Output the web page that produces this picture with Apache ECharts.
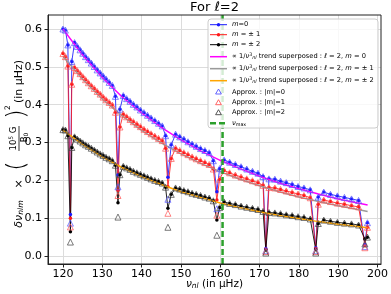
<!DOCTYPE html>
<html><head><meta charset="utf-8">
<script src="https://cdn.jsdelivr.net/npm/echarts@6/dist/echarts.min.js"></script>
<style>html,body{margin:0;padding:0;background:#fff}#c{width:391px;height:294px}</style>
</head><body><div id="c"></div>
<script>
// frequencies nu_nl (µHz)
const freq = [120.00,120.62,121.25,121.90,122.25,122.95,123.65,124.35,125.05,125.75,126.45,127.20,127.95,128.70,129.45,130.20,130.95,131.75,132.55,133.35,
134.00,134.50,135.35,136.20,137.05,137.90,138.80,139.70,140.60,141.50,142.40,143.35,144.30,145.25,146.10,
146.70,147.55,148.65,149.70,150.75,151.80,152.85,153.90,155.00,156.10,157.20,158.25,
159.15,159.85,161.00,162.40,163.85,165.30,166.75,168.20,169.60,170.90,
171.60,172.40,173.90,175.35,176.80,178.30,179.80,181.30,182.90,
184.30,184.95,186.35,188.05,189.80,191.60,193.40,195.20,196.80,197.45];
const m0 = [0.600,0.597,0.558,0.110,0.514,0.564,0.554,0.545,0.536,0.527,0.519,0.510,0.501,0.492,0.484,0.476,0.468,0.459,0.451,0.422,
0.214,0.388,0.424,0.416,0.409,0.401,0.394,0.386,0.379,0.372,0.365,0.358,0.351,0.344,0.318,
0.208,0.294,0.322,0.315,0.309,0.302,0.296,0.290,0.284,0.279,0.273,0.252,
0.170,0.231,0.254,0.248,0.242,0.236,0.230,0.224,0.219,0.210,
0.020,0.204,0.203,0.198,0.194,0.189,0.184,0.180,0.175,
0.022,0.156,0.169,0.163,0.159,0.155,0.151,0.147,0.030,0.088];
const m1 = [0.535,0.527,0.502,0.100,0.454,0.498,0.490,0.482,0.474,0.466,0.458,0.450,0.443,0.435,0.428,0.420,0.413,0.406,0.399,0.380,
0.174,0.341,0.375,0.368,0.361,0.355,0.348,0.342,0.335,0.329,0.323,0.317,0.311,0.305,0.285,
0.183,0.258,0.285,0.279,0.273,0.268,0.262,0.257,0.252,0.247,0.242,0.230,
0.148,0.203,0.226,0.220,0.214,0.209,0.204,0.199,0.194,0.187,
0.018,0.181,0.180,0.176,0.172,0.168,0.164,0.160,0.154,
0.020,0.137,0.148,0.144,0.140,0.137,0.133,0.130,0.028,0.076];
const m2 = [0.334,0.333,0.318,0.064,0.287,0.315,0.309,0.304,0.299,0.294,0.290,0.285,0.280,0.275,0.270,0.266,0.261,0.257,0.252,0.240,
0.141,0.215,0.237,0.233,0.229,0.224,0.220,0.216,0.212,0.208,0.204,0.200,0.197,0.193,0.182,
0.126,0.163,0.180,0.177,0.173,0.170,0.166,0.163,0.160,0.156,0.153,0.146,
0.095,0.128,0.143,0.139,0.136,0.132,0.129,0.126,0.123,0.118,
0.016,0.115,0.114,0.112,0.109,0.107,0.104,0.102,0.098,
0.017,0.086,0.095,0.092,0.089,0.087,0.085,0.082,0.045,0.050];
// approximations |m| = 0,1,2
const approx0 = [0.600,0.597,0.558,0.087,0.514,0.564,0.554,0.545,0.536,0.527,0.519,0.510,0.501,0.492,0.484,0.476,0.468,0.459,0.451,0.422,
0.183,0.388,0.424,0.416,0.409,0.401,0.394,0.386,0.379,0.372,0.365,0.358,0.351,0.344,0.318,
0.150,0.294,0.322,0.315,0.309,0.302,0.296,0.290,0.284,0.279,0.273,0.252,
0.125,0.231,0.254,0.248,0.242,0.236,0.230,0.224,0.219,0.210,
0.014,0.204,0.203,0.198,0.194,0.189,0.184,0.180,0.175,
0.014,0.156,0.169,0.163,0.159,0.155,0.151,0.147,0.025,0.088];
const approx1 = [0.535,0.527,0.502,0.077,0.454,0.498,0.490,0.482,0.474,0.466,0.458,0.450,0.443,0.435,0.428,0.420,0.413,0.406,0.399,0.380,
0.160,0.341,0.375,0.368,0.361,0.355,0.348,0.342,0.335,0.329,0.323,0.317,0.311,0.305,0.285,
0.113,0.258,0.285,0.279,0.273,0.268,0.262,0.257,0.252,0.247,0.242,0.230,
0.108,0.203,0.226,0.220,0.214,0.209,0.204,0.199,0.194,0.187,
0.012,0.181,0.180,0.176,0.172,0.168,0.164,0.160,0.154,
0.012,0.137,0.148,0.144,0.140,0.137,0.133,0.130,0.022,0.076];
const approx2 = [0.334,0.333,0.318,0.037,0.287,0.315,0.309,0.304,0.299,0.294,0.290,0.285,0.280,0.275,0.270,0.266,0.261,0.257,0.252,0.240,
0.103,0.215,0.237,0.233,0.229,0.224,0.220,0.216,0.212,0.208,0.204,0.200,0.197,0.193,0.182,
0.076,0.163,0.180,0.177,0.173,0.170,0.166,0.163,0.160,0.156,0.153,0.146,
0.055,0.128,0.143,0.139,0.136,0.132,0.129,0.126,0.123,0.118,
0.008,0.115,0.114,0.112,0.109,0.107,0.104,0.102,0.098,
0.008,0.086,0.095,0.092,0.089,0.087,0.085,0.082,0.032,0.050];
// 1/nu^3 trends
const trendFreq = [120,125,130,135,140,145,150,155,160,165,170,175,180,185,190,195,197.5];
const trend0 = [0.600,0.531,0.472,0.421,0.378,0.340,0.307,0.278,0.253,0.231,0.211,0.193,0.178,0.164,0.151,0.140,0.135];
const trend1 = [0.528,0.467,0.415,0.371,0.332,0.299,0.270,0.245,0.223,0.203,0.186,0.170,0.156,0.144,0.133,0.123,0.118];
const trend2 = [0.333,0.295,0.262,0.234,0.210,0.189,0.170,0.155,0.140,0.128,0.117,0.107,0.099,0.091,0.084,0.078,0.075];
const numax = 160.6;
const xTicks = [120,130,140,150,160,170,180,190,200];
const yTicks = [0,0.1,0.2,0.3,0.4,0.5,0.6];
const xMin = 116.2, xMax = 200.9, yMin = -0.021, yMax = 0.637;

const pair = (xs, ys) => xs.map((x, i) => [x, ys[i]]);
const FONT = 'DejaVu Sans';
const C = {b: '#1a1aff', r: '#ff1a1a', k: '#000000', mag: '#ff00ff', gray: '#9a9a9a', org: '#ffa500',
  ab: '#5555ff', ar: '#ff5555', ak: '#444444', g: '#2ca02c'};

function dataLine(name, ys, color) {
  return {type: 'line', name, data: pair(freq, ys), symbol: 'circle', symbolSize: 3.5,
    itemStyle: {color}, lineStyle: {color, width: 1, opacity: 0.85}, z: 2};
}
function trendLine(name, ys, color) {
  return {type: 'line', name, data: pair(trendFreq, ys), symbol: 'none',
    lineStyle: {color, width: 1.5}, itemStyle: {color}, z: 3};
}
function approxPts(name, ys, color) {
  return {type: 'scatter', name, data: pair(freq, ys), symbol: 'triangle', symbolSize: 6,
    itemStyle: {color: 'rgba(0,0,0,0)', borderColor: color, borderWidth: 0.9}, z: 4};
}

// ---- hand-made legend (matplotlib style) ----
const LX = 208, LY = 19, LW = 170, LH = 109;
const rowsY = [24.7, 34.7, 44.7, 56.7, 68.7, 80.7, 92, 102.7, 112.7, 123.3];
const lrich = {
  i: {fontStyle: 'italic', fontSize: 6.7, fontFamily: FONT},
  sup: {fontSize: 4.8, fontFamily: FONT, padding: [0, 0, 4, 0]},
  sub: {fontSize: 4.8, fontFamily: FONT, padding: [3, 0, 0, 0]},
  subi: {fontSize: 4.8, fontStyle: 'italic', fontFamily: FONT, padding: [3, 0, 0, 0]}
};
const legendItems = [
  {kind: 'ld', color: C.b, text: '{i|m}=0'},
  {kind: 'ld', color: C.r, text: '{i|m} = ± 1'},
  {kind: 'ld', color: C.k, text: '{i|m} = ± 2'},
  {kind: 'l', color: C.mag, text: '∝ 1/{i|ν}{sup|3}{subi|nl} trend superposed : {i|ℓ} = 2, {i|m} = 0'},
  {kind: 'l', color: C.gray, text: '∝ 1/{i|ν}{sup|3}{subi|nl} trend superposed : {i|ℓ} = 2, {i|m} = ± 1'},
  {kind: 'l', color: C.org, text: '∝ 1/{i|ν}{sup|3}{subi|nl} trend superposed : {i|ℓ} = 2, {i|m} = ± 2'},
  {kind: 't', color: C.ab, text: 'Approx. : |m|=0'},
  {kind: 't', color: C.ar, text: 'Approx. : |m|=1'},
  {kind: 't', color: C.ak, text: 'Approx. : |m|=2'},
  {kind: 'dash', color: C.g, text: '{i|ν}{sub|max}'}
];
const legendGraphics = [{type: 'rect', shape: {x: LX, y: LY, width: LW, height: LH, r: 3}, z: 20,
  style: {fill: 'rgba(255,255,255,0.8)', stroke: '#cccccc', lineWidth: 1}}];
legendItems.forEach((it, k) => {
  const y = rowsY[k];
  if (it.kind === 'ld' || it.kind === 'l' || it.kind === 'dash') {
    legendGraphics.push({type: 'line', z: 21, shape: {x1: 210, y1: y, x2: 227, y2: y},
      style: {stroke: it.color, lineWidth: it.kind === 'dash' ? 2.5 : (it.kind === 'l' ? 1.5 : 1),
        lineDash: it.kind === 'dash' ? [6, 3] : null}});
  }
  if (it.kind === 'ld') {
    legendGraphics.push({type: 'circle', z: 22, shape: {cx: 218.5, cy: y, r: 1.7}, style: {fill: it.color}});
  }
  if (it.kind === 't') {
    legendGraphics.push({type: 'polygon', z: 22, shape: {points: [[218.5, y - 3], [215.6, y + 2], [221.4, y + 2]]},
      style: {fill: 'none', stroke: it.color, lineWidth: 0.9}});
  }
  legendGraphics.push({type: 'text', z: 22, x: 232, y: y,
    style: {text: it.text, align: 'left', verticalAlign: 'middle', fontSize: 6.7, fontFamily: FONT, fill: '#000', rich: lrich}});
});

const R90 = Math.PI / 2;
const ylab = (x, y, text, size, extra) => Object.assign({type: 'text', x, y, rotation: R90, z: 10,
  style: Object.assign({text, align: 'center', verticalAlign: 'middle', fontSize: size, fontFamily: FONT, fill: '#000'}, extra || {})});

const chart = echarts.init(document.getElementById('c'), null, {renderer: 'canvas'});
chart.setOption({
  animation: false,
  backgroundColor: '#fff',
  grid: {left: 48, right: 10, top: 15, bottom: 30},
  xAxis: {type: 'value', min: xMin, max: xMax,
    axisLine: {show: true, onZero: false, lineStyle: {color: '#222', width: 1}},
    axisTick: {show: true, length: 3.5, customValues: xTicks, lineStyle: {color: '#222'}},
    axisLabel: {customValues: xTicks, fontSize: 11, fontFamily: FONT, color: '#000', margin: 5},
    splitLine: {show: true, lineStyle: {color: '#dcdcdc', width: 1}}},
  yAxis: {type: 'value', min: yMin, max: yMax,
    axisLine: {show: true, onZero: false, lineStyle: {color: '#222', width: 1}},
    axisTick: {show: true, length: 3.5, customValues: yTicks, lineStyle: {color: '#222'}},
    axisLabel: {customValues: yTicks, fontSize: 11, fontFamily: FONT, color: '#000', margin: 6,
      formatter: v => v.toFixed(1)},
    splitLine: {show: true, lineStyle: {color: '#dcdcdc', width: 1}}},
  series: [
    dataLine('m0', m0, C.b),
    dataLine('m1', m1, C.r),
    dataLine('m2', m2, C.k),
    trendLine('t0', trend0, C.mag),
    trendLine('t1', trend1, C.gray),
    trendLine('t2', trend2, C.org),
    approxPts('a0', approx0, C.ab),
    approxPts('a1', approx1, C.ar),
    approxPts('a2', approx2, C.ak),
    {type: 'line', name: 'nu', data: [[numax, yMin], [numax, yMax]], symbol: 'none',
      lineStyle: {color: C.g, width: 2.5, type: [6, 3]}, itemStyle: {color: C.g}, z: 5}
  ],
  graphic: [
    {type: 'rect', shape: {x: 48, y: 15, width: 333, height: 249}, silent: true, z: 10,
      style: {fill: 'none', stroke: '#222', lineWidth: 1}},
    {type: 'text', x: 214.5, y: 8, z: 10,
      style: {text: 'For {i|ℓ}=2', align: 'center', verticalAlign: 'middle', fontSize: 13, fontFamily: FONT, fill: '#000',
        rich: {i: {fontStyle: 'italic', fontSize: 13, fontFamily: FONT}}}},
    {type: 'text', x: 214.5, y: 284, z: 10,
      style: {text: '{i|ν}{sub|nl} (in μHz)', align: 'center', verticalAlign: 'middle', fontSize: 10.5, fontFamily: FONT, fill: '#000',
        rich: {i: {fontStyle: 'italic', fontSize: 10.5, fontFamily: FONT}, sub: {fontSize: 7.5, fontStyle: 'italic', fontFamily: FONT, padding: [4, 0, 0, 0]}}}},
    // rotated y-axis label pieces
    ylab(19, 214, '{i|δν}{sub|nlm}', 11, {rich: {i: {fontStyle: 'italic', fontSize: 11, fontFamily: FONT}, sub: {fontSize: 7.7, fontStyle: 'italic', fontFamily: FONT, padding: [4, 0, 0, 0]}}}),
    ylab(19, 184, '×', 11),
    ylab(18, 166, '(', 24, {fontWeight: 'lighter'}),
    ylab(13.5, 138.5, '10{sup|5} G', 8.5, {rich: {sup: {fontSize: 6, fontFamily: FONT, padding: [0, 0, 4, 0]}}}),
    {type: 'line', z: 10, shape: {x1: 19, y1: 126, x2: 19, y2: 151}, style: {stroke: '#000', lineWidth: 0.8}},
    ylab(24.5, 137.5, 'B{sub|0}', 8.5, {rich: {sub: {fontSize: 6, fontFamily: FONT, padding: [3, 0, 0, 0]}}}),
    ylab(18, 114, ')', 24, {fontWeight: 'lighter'}),
    ylab(8, 107.5, '2', 7.5),
    ylab(19, 81.5, '(in μHz)', 11)
  ].concat(legendGraphics)
});
</script></body></html>
